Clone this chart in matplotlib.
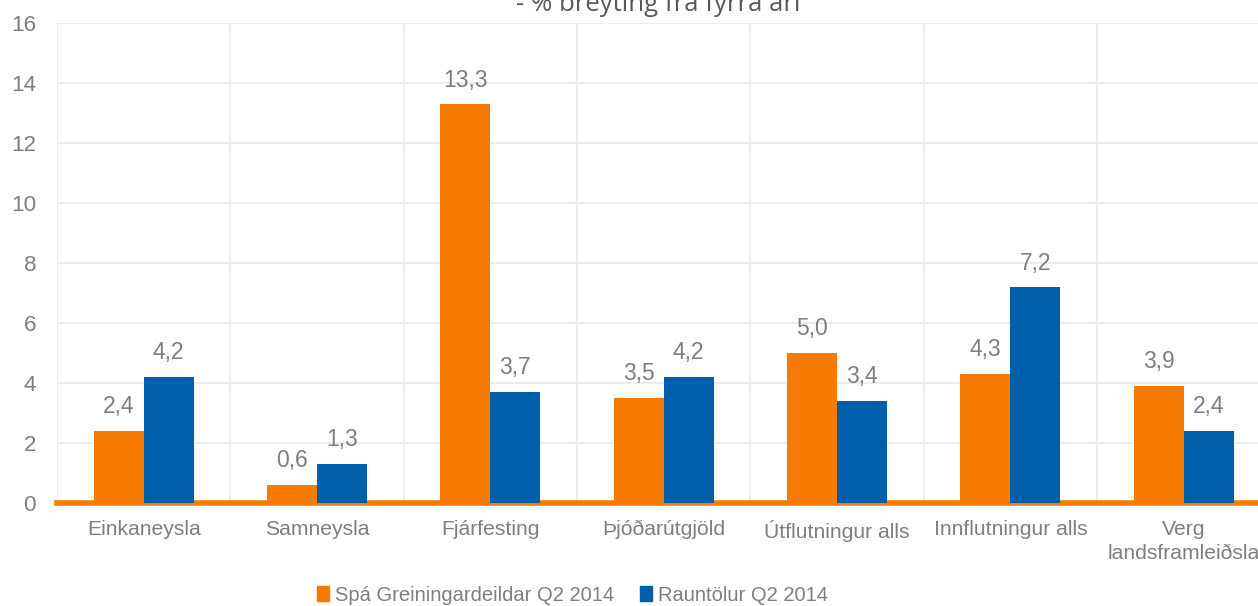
import numpy as np
import matplotlib
matplotlib.use("Agg")
import matplotlib.pyplot as plt
from matplotlib.patches import Patch

categories = ["Einkaneysla", "Samneysla", "Fjárfesting", "Þjóðarútgjöld",
              "Útflutningur alls", "Innflutningur alls", "Verg\nlandsframleiðsla"]
spa = [2.4, 0.6, 13.3, 3.5, 5.0, 4.3, 3.9]
raun = [4.2, 1.3, 3.7, 4.2, 3.4, 7.2, 2.4]
series_names = ["Spá Greiningardeildar Q2 2014", "Rauntölur Q2 2014"]
title = "- % breyting frá fyrra ári"

orange = "#f77b00"
blue = "#005eab"
gray = "#7f7f7f"
grid = "#ededed"

plt.rcParams["font.family"] = ["Liberation Sans", "DejaVu Sans"]

fig = plt.figure(figsize=(12.58, 6.06), dpi=100)
ax = fig.add_axes([0.0453, 0.17, 0.9645, 0.792])

x = np.arange(len(categories))
w = 0.288
b1 = ax.bar(x - w / 2, spa, w, color=orange, zorder=3)
b2 = ax.bar(x + w / 2, raun, w, color=blue, zorder=3)

for bars, vals in ((b1, spa), (b2, raun)):
    for r, v in zip(bars, vals):
        ax.annotate(f"{v:.1f}".replace(".", ","), (r.get_x() + r.get_width() / 2, v),
                    xytext=(0, 9), textcoords="offset points", ha="center", va="bottom",
                    fontsize=16.5, color=gray)

ax.set_xlim(-0.5, len(categories) - 0.5)
ax.set_ylim(0, 16)
ax.set_yticks(range(0, 17, 2))
ax.set_xticks(x)
ax.set_xticklabels(categories, fontsize=15.2, color=gray, linespacing=1.35)
ax.tick_params(axis="y", labelsize=16.2, labelcolor=gray, length=0, pad=15)
ax.tick_params(axis="x", length=0, pad=12)

# light grid, vertical lines at category boundaries
for yv in range(2, 17, 2):
    ax.axhline(yv, color=grid, lw=1.5, zorder=1)
for xv in np.arange(-0.5, len(categories), 1.0):
    ax.axvline(xv, color=grid, lw=1.5, zorder=1)
ax.axhline(0, color=orange, lw=4.0, zorder=2, clip_on=False)

for s in ax.spines.values():
    s.set_visible(False)

fig.text(0.5235, 0.972, title, ha="center", va="bottom", fontsize=18.5,
         color="#595959", family="Open Sans")

handles = [Patch(color=orange), Patch(color=blue)]
fig.legend(handles, series_names, loc="center", bbox_to_anchor=(0.455, 0.018),
           ncol=2, frameon=False, fontsize=14.5,
           labelcolor=gray, handlelength=0.6, handleheight=0.7,
           handletextpad=0.3, columnspacing=1.3)

fig.savefig("out.png", dpi=100)
